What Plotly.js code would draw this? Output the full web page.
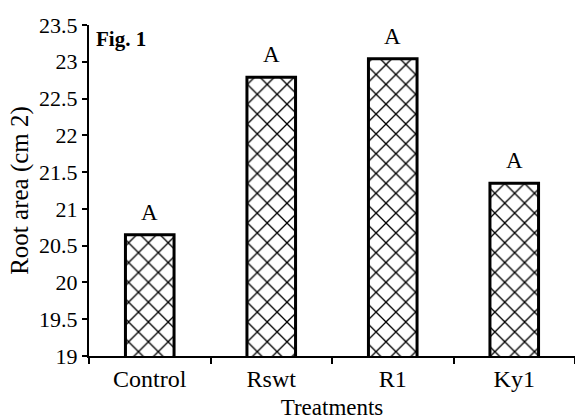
<!DOCTYPE html>
<html><head><meta charset="utf-8">
<script src="https://cdn.plot.ly/plotly-3.0.1.min.js"></script>
<style>html,body{margin:0;padding:0;background:#fff}</style>
</head><body>
<div id="chart" style="width:575px;height:420px"></div>
<script>
var categories = ["Control", "Rswt", "R1", "Ky1"];
var rootArea = [20.65, 22.79, 23.04, 21.35];
var letters = ["A", "A", "A", "A"];
var yTicks = [19, 19.5, 20, 20.5, 21, 21.5, 22, 22.5, 23, 23.5];
var yTickText = ["19", "19.5", "20", "20.5", "21", "21.5", "22", "22.5", "23", "23.5"];

var font = "'Liberation Serif', 'Times New Roman', serif";
var trace = {
  type: "bar",
  x: categories,
  y: rootArea,
  width: 0.4,
  marker: {
    color: "#fff",
    line: {color: "#000", width: 3},
    pattern: {shape: "x", size: 14, solidity: 0.18, fgcolor: "#000", bgcolor: "#fff"}
  },
  hoverinfo: "none"
};
var annotations = categories.map(function (c, i) {
  return {
    x: c, y: rootArea[i], xref: "x", yref: "y",
    text: letters[i], showarrow: false, yanchor: "bottom", yshift: 8,
    font: {family: font, size: 23, color: "#000"}
  };
});
annotations.push({
  text: "<b>Fig. 1</b>", xref: "paper", yref: "paper", x: 0.01, y: 1.0,
  xanchor: "left", yanchor: "top", showarrow: false,
  font: {family: font, size: 21, color: "#000"}
});
var layout = {
  width: 575, height: 420,
  margin: {l: 89, r: 0, t: 25, b: 64},
  paper_bgcolor: "#fff", plot_bgcolor: "#fff",
  font: {family: font, size: 22, color: "#000"},
  showlegend: false,
  xaxis: {
    type: "category",
    showline: true, linecolor: "#000", linewidth: 2,
    ticks: "outside", tickson: "boundaries", ticklen: 6, tickwidth: 2, tickcolor: "#000",
    tickfont: {family: font, size: 24},
    showgrid: false, zeroline: false,
    title: {text: "Treatments", font: {family: font, size: 23}, standoff: 8}
  },
  yaxis: {
    range: [19, 23.5],
    tickvals: yTicks, ticktext: yTickText,
    showline: true, linecolor: "#000", linewidth: 2,
    ticks: "outside", ticklen: 5, tickwidth: 2, tickcolor: "#000",
    tickfont: {family: font, size: 22},
    showgrid: false, zeroline: false,
    title: {text: "Root area (cm 2)", font: {family: font, size: 25}, standoff: 3}
  },
  annotations: annotations
};
Plotly.newPlot("chart", [trace], layout, {displayModeBar: false, staticPlot: true});
</script>
</body></html>
